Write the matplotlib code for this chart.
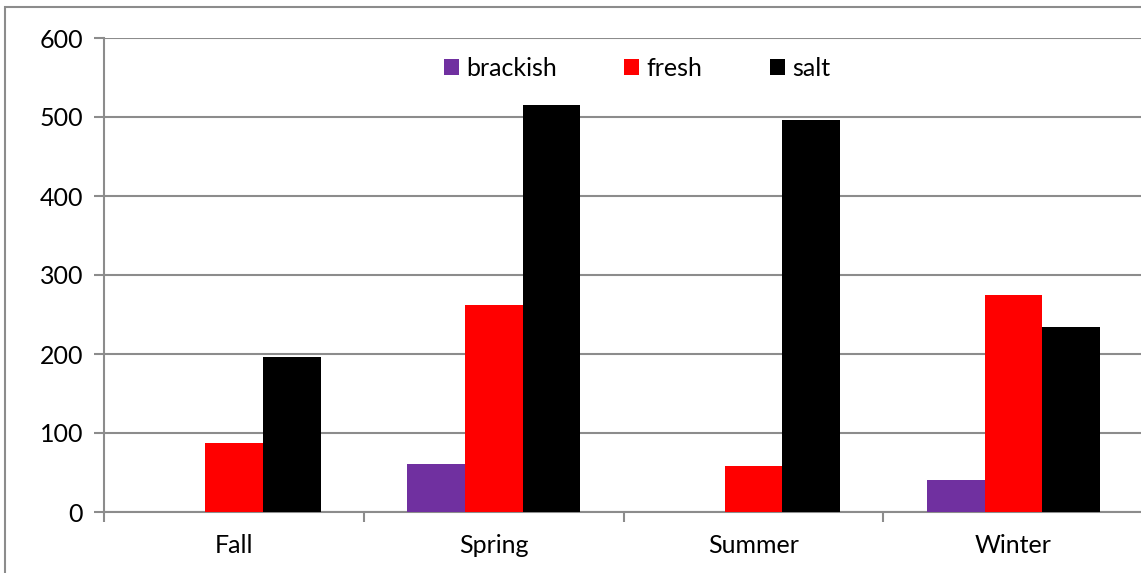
import numpy as np
import matplotlib
matplotlib.use("Agg")
import matplotlib.pyplot as plt
from matplotlib.patches import Rectangle

seasons = ["Fall", "Spring", "Summer", "Winter"]
brackish = [0, 61, 0, 41]
fresh = [87, 262, 58, 275]
salt = [196, 515, 496, 234]
series_names = ["brackish", "fresh", "salt"]
series_colors = ["#7030A0", "#FF0000", "#000000"]

plt.rcParams['font.family'] = ['Lato', 'DejaVu Sans']
grid_col = "#8c8c8c"

fig = plt.figure(figsize=(11.41, 5.73), dpi=100)
ax = fig.add_axes([104/1141, 1 - 512/573, 1 - 104/1141 + 0.002, (512 - 38)/573])

# outer chart border
fig.patches.append(Rectangle((5/1141, -0.1), 1.2, 1 - 7/573 + 0.1, transform=fig.transFigure,
                             fill=False, edgecolor=grid_col, lw=1.5))

x = np.arange(len(seasons))
w = 1 / 4.5
for i, (vals, name, col) in enumerate(zip([brackish, fresh, salt], series_names, series_colors)):
    ax.bar(x + (i - 1) * w, vals, w, color=col, label=name, zorder=3)

ax.set_xlim(-0.5, 3.5)
ax.set_ylim(0, 600)
ax.set_yticks(range(0, 601, 100))
ax.yaxis.grid(True, color=grid_col, lw=1.5, zorder=0)
ax.set_xticks(x)
ax.set_xticklabels(seasons)
ax.tick_params(axis='x', length=0, pad=16, labelsize=18)
ax.tick_params(axis='y', length=7, width=1.5, color=grid_col, pad=8, labelsize=18)
# category separator ticks
ax.set_xticks(np.arange(-0.5, 3.6, 1), minor=True)
ax.tick_params(axis='x', which='minor', length=7, width=1.5, color=grid_col)

for s in ['top', 'right']:
    ax.spines[s].set_visible(False)
for s in ['left', 'bottom']:
    ax.spines[s].set_color(grid_col)
    ax.spines[s].set_linewidth(1.5)

leg = ax.legend(loc='upper center', bbox_to_anchor=(0.513, 1.007), ncol=3, frameon=False,
                fontsize=18, handlelength=0.6, handleheight=0.6, handletextpad=0.3,
                columnspacing=2.7)

fig.savefig("out.png", dpi=100)
